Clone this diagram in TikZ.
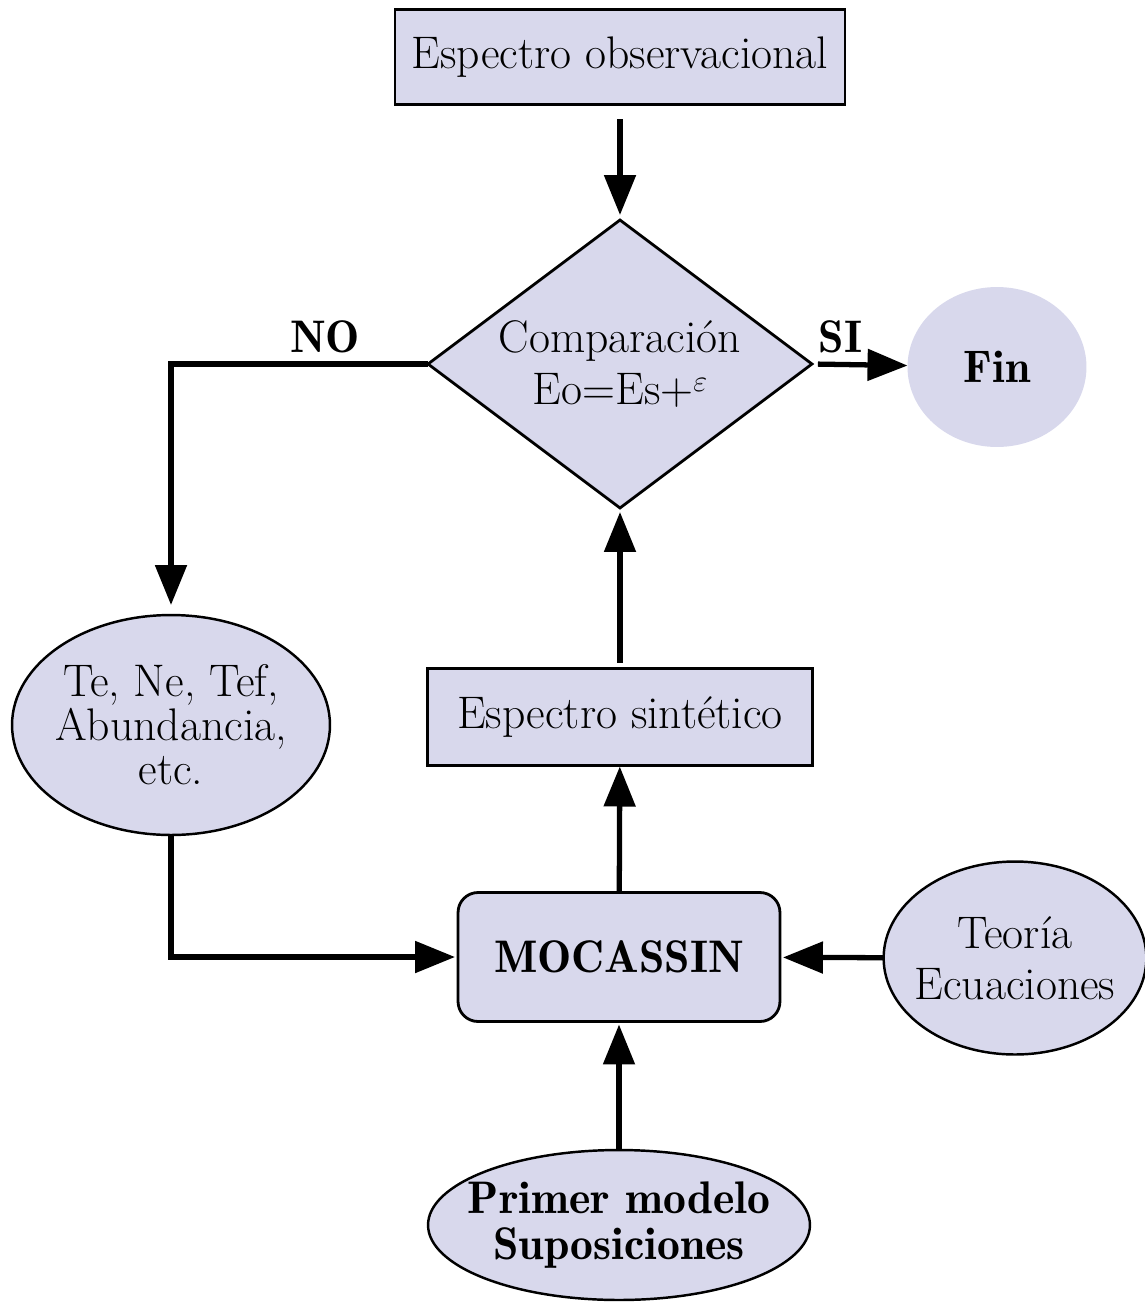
\documentclass[tikz,border=0pt]{standalone}
\usepackage{amsmath,amssymb}
\usetikzlibrary{arrows.meta,positioning,shapes.geometric}
\definecolor{lila}{RGB}{216,216,236}
\newcommand{\negrita}[1]{{\fontseries{b}\selectfont #1}}

\begin{document}
\begin{tikzpicture}[x=0.02cm,y=-0.02cm,>={Triangle[length=0.8cm,width=0.62cm]},
  every node/.style={font=\fontsize{26}{27}\selectfont,align=center,outer sep=0pt},
  caja/.style={draw,line width=1.6pt,fill=lila,inner sep=0pt},
  ovalo/.style={ellipse,draw,line width=1.4pt,fill=lila,inner sep=0pt},
  flecha/.style={->,line width=3pt},
  etiqueta/.style={above,yshift=3pt}]
  \useasboundingbox (0,0) rectangle (1144,1306);
  % nodos
  \node[caja,minimum width=9cm,minimum height=1.9cm] (obs) at (620,57) {Espectro observacional};
  \node[diamond,aspect=1.333,draw,line width=1.6pt,fill=lila,inner sep=0pt,minimum width=7.68cm,minimum height=5.76cm] (comp) at (620,364) {Comparación\\[3pt] Eo=Es+\raisebox{.3em}{\fontsize{17}{17}\selectfont$\varepsilon$}};
  \node[ellipse,fill=lila,inner sep=0pt,minimum width=3.58cm,minimum height=3.2cm] (fin) at (997,367) {\negrita{Fin}};
  \node[ovalo,inner xsep=-0.1cm,minimum width=6.36cm,minimum height=4.4cm] (param) at (171,725) {Te, Ne, Tef,\\[-2pt] Abundancia,\\[-2pt] etc.};
  \node[caja,minimum width=7.7cm,minimum height=1.94cm] (sint) at (620,717) {Espectro sintético};
  \node[caja,rounded corners=0.4cm,minimum width=6.44cm,minimum height=2.58cm] (moc) at (619,957) {\negrita{MOCASSIN}};
  \node[ovalo,inner xsep=-0.15cm,minimum width=5.12cm,minimum height=3.86cm] (teo) at (1015,958) {Teoría\\[2pt] Ecuaciones};
  \node[ovalo,inner xsep=-0.5cm,minimum width=7.64cm,minimum height=3cm] (prim) at (619,1225) {\negrita{Primer modelo}\\[-1pt] \negrita{Suposiciones}};
  % conexiones
  \draw[flecha,shorten <=0.3cm,shorten >=0.1cm] (obs) -- (comp);
  \draw[flecha,shorten >=0.2cm] (comp.west) -| node[pos=0.2,etiqueta]{\negrita{NO}} (param.north);
  \draw[flecha,shorten <=0.12cm] (comp.east) -- node[pos=0.3,etiqueta]{\negrita{SI}} (fin);
  \draw[flecha,shorten >=0.06cm] (param.south) |- (moc.west);
  \draw[flecha,shorten >=0.06cm] (teo) -- (moc);
  \draw[flecha,shorten >=0.06cm] (prim) -- (moc);
  \draw[flecha,shorten >=0.02cm] (moc) -- (sint);
  \draw[flecha,shorten <=0.12cm,shorten >=0.08cm] (sint) -- (comp);
\end{tikzpicture}
\end{document}
